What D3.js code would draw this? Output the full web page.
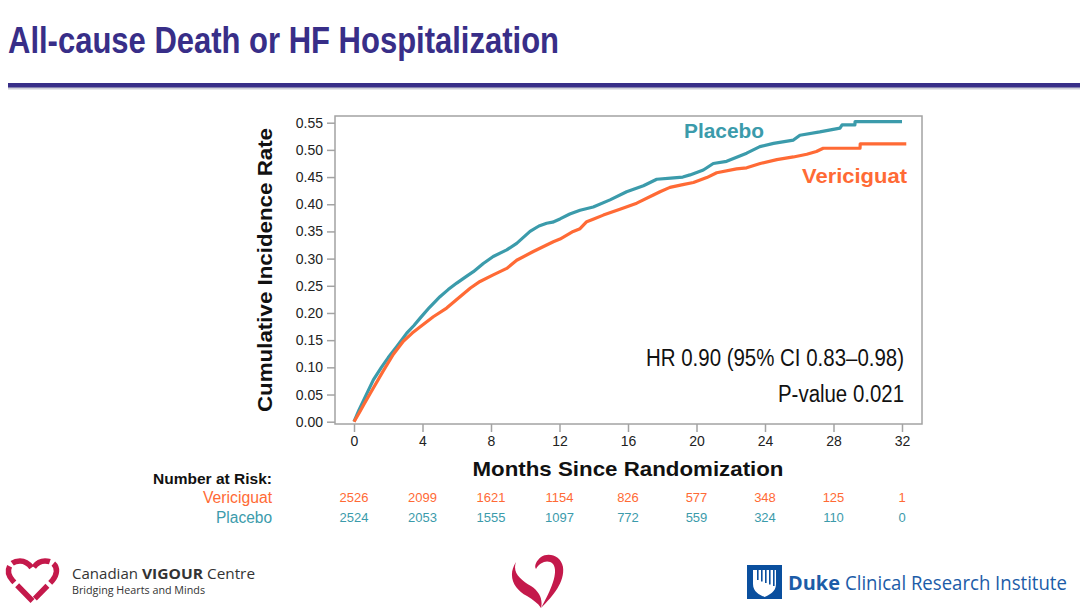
<!DOCTYPE html>
<html><head><meta charset="utf-8">
<script src="https://cdn.jsdelivr.net/npm/d3@7"></script>
<style>body{margin:0;background:#fff}svg{display:block;background:#fff}</style>
</head><body>
<svg id="c" width="1080" height="612"></svg>
<script>
// ---- data ----
const placeboMonths = [0,0.3,0.6,1.13,1.6,2.0,2.49,3.08,3.5,3.85,4.4,5.02,5.5,6.0,6.5,6.97,7.55,8.13,8.92,9.5,10.28,10.8,11.25,11.6,12.03,12.6,13.2,13.97,14.95,15.92,16.9,17.68,18.5,19.2,19.62,20.4,20.98,21.76,22.93,23.7,24.5,25.66,26.04,27.2,28.38,28.5,29.25,29.26,32.0];
const placeboRate   = [0,0.022,0.042,0.077,0.1,0.118,0.138,0.163,0.177,0.19,0.21,0.23,0.243,0.255,0.266,0.276,0.291,0.304,0.316,0.328,0.35,0.36,0.365,0.367,0.373,0.382,0.389,0.395,0.408,0.423,0.434,0.446,0.448,0.450,0.454,0.463,0.475,0.479,0.494,0.506,0.512,0.518,0.527,0.533,0.54,0.546,0.546,0.552,0.552];
const vericiguatMonths = [0,0.3,0.6,1.13,1.7,2.3,2.88,3.4,3.85,4.63,5.41,6.19,6.8,7.36,8.13,8.92,9.5,10.47,11.64,12.03,12.8,13.2,13.59,14.0,14.56,15.53,16.51,17.48,17.87,18.45,19.2,19.82,20.6,21.18,22.34,22.93,23.72,24.69,25.66,26.44,27.0,27.4,29.55,29.56,32.25];
const vericiguatRate   = [0,0.016,0.033,0.062,0.093,0.124,0.148,0.163,0.174,0.193,0.209,0.23,0.246,0.258,0.27,0.282,0.297,0.313,0.331,0.336,0.35,0.355,0.368,0.373,0.38,0.391,0.402,0.417,0.423,0.431,0.436,0.440,0.449,0.458,0.465,0.467,0.475,0.482,0.487,0.492,0.497,0.503,0.503,0.511,0.511];
const xTicks = [0,4,8,12,16,20,24,28,32];
const yTicks = [0,0.05,0.10,0.15,0.20,0.25,0.30,0.35,0.40,0.45,0.50,0.55];
const riskMonths = [0,4,8,12,16,20,24,28,32];
const vericiguatAtRisk = [2526,2099,1621,1154,826,577,348,125,1];
const placeboAtRisk    = [2524,2053,1555,1097,772,559,324,110,0];

// ---- styles ----
const TEAL = "#3b9bab", ORANGE = "#ff6a35", INDIGO = "#382e88", GRID = "#a3a3a3";
const F = "'Liberation Sans', Arial, sans-serif";
const OS = "'Open Sans', sans-serif";

const svg = d3.select("#c");
const plot = {l:335, r:922, t:116, b:424};
const x = d3.scaleLinear().domain([0,32]).range([354,902]);
const y = d3.scaleLinear().domain([0,0.55]).range([421.7,122.7]);

function label(t, px, py, opts) {
  const e = svg.append("text").attr("x",px).attr("y",py).attr("font-family",opts.family||F)
    .attr("font-size",opts.size).attr("fill",opts.fill||"#111").text(t);
  if (opts.bold) e.attr("font-weight","bold");
  if (opts.anchor) e.attr("text-anchor",opts.anchor);
  if (opts.len) e.attr("textLength",opts.len).attr("lengthAdjust","spacingAndGlyphs");
  return e;
}
// text squeezed horizontally with a transform so its box matches the target width
function fitLabel(t, px, py, width, opts) {
  const e = svg.append("text").attr("x",0).attr("y",0).attr("font-family",opts.family||F)
    .attr("font-size",opts.size).attr("fill",opts.fill||"#111").text(t);
  if (opts.bold) e.attr("font-weight","bold");
  const w = e.node().getComputedTextLength();
  e.attr("transform",`translate(${px},${py}) scale(${width/w},1)`);
  return e;
}

// title
label("All-cause Death or HF Hospitalization", 8, 53, {size:37, bold:true, fill:INDIGO, len:551});
svg.append("rect").attr("x",8).attr("y",87).attr("width",1072).attr("height",2.5).attr("fill","#d0d0d8");
svg.append("rect").attr("x",8).attr("y",83).attr("width",1072).attr("height",4.5).attr("fill",INDIGO);

// axes
const gx = svg.append("g").attr("transform",`translate(0,${plot.b})`)
  .call(d3.axisBottom(x).tickValues(xTicks).tickSize(8).tickPadding(4));
gx.select(".domain").remove();
gx.selectAll("line").attr("stroke",GRID).attr("stroke-width",1.5);
gx.selectAll("text").attr("font-family",F).attr("font-size",14).attr("fill","#222");

const gy = svg.append("g").attr("transform",`translate(${plot.l},0)`)
  .call(d3.axisLeft(y).tickValues(yTicks).tickFormat(d3.format(".2f")).tickSize(8).tickPadding(4));
gy.select(".domain").remove();
gy.selectAll("line").attr("stroke",GRID).attr("stroke-width",1.5);
gy.selectAll("text").attr("font-family",F).attr("font-size",14).attr("fill","#222");

// frame
svg.append("rect").attr("x",plot.l).attr("y",plot.t).attr("width",plot.r-plot.l).attr("height",plot.b-plot.t)
  .attr("fill","none").attr("stroke",GRID).attr("stroke-width",1.5);

// axis titles
svg.append("text").attr("transform","translate(272,270) rotate(-90)").attr("text-anchor","middle")
  .attr("font-family",F).attr("font-weight","bold").attr("font-size",21).attr("fill","#111")
  .attr("textLength",284).attr("lengthAdjust","spacingAndGlyphs").text("Cumulative Incidence Rate");
label("Months Since Randomization", 628, 476, {size:21, bold:true, anchor:"middle", len:311});

// curves
const line = d3.line().x(d=>x(d[0])).y(d=>y(d[1]));
svg.append("path").datum(d3.zip(placeboMonths,placeboRate)).attr("d",line)
  .attr("fill","none").attr("stroke",TEAL).attr("stroke-width",3.2).attr("stroke-linejoin","round");
svg.append("path").datum(d3.zip(vericiguatMonths,vericiguatRate)).attr("d",line)
  .attr("fill","none").attr("stroke",ORANGE).attr("stroke-width",3.2).attr("stroke-linejoin","round");

// series labels
label("Placebo", 684, 137.5, {size:20, bold:true, fill:TEAL, len:80});
label("Vericiguat", 802, 183, {size:20, bold:true, fill:ORANGE, len:105});

// stats
label("HR 0.90 (95% CI 0.83\u20130.98)", 646, 366, {size:23, len:258});
label("P-value 0.021", 778, 402, {size:23, len:126});

// number at risk
label("Number at Risk:", 153, 484, {size:15, bold:true, len:119});
label("Vericiguat", 272, 503, {size:16, anchor:"end", fill:ORANGE, len:69});
label("Placebo", 272, 523, {size:16, anchor:"end", fill:TEAL, len:56});
svg.append("g").selectAll("text").data(d3.zip(riskMonths,vericiguatAtRisk)).join("text")
  .attr("x",d=>x(d[0])).attr("y",502).attr("text-anchor","middle").attr("font-family",F)
  .attr("font-size",13).attr("fill",ORANGE).text(d=>d[1]);
svg.append("g").selectAll("text").data(d3.zip(riskMonths,placeboAtRisk)).join("text")
  .attr("x",d=>x(d[0])).attr("y",522).attr("text-anchor","middle").attr("font-family",F)
  .attr("font-size",13).attr("fill",TEAL).text(d=>d[1]);

// ---- logos ----
const RED = "#c4194b";
// Canadian VIGOUR Centre heart (outlined, broken)
svg.append("path").attr("d","M32.5 601 L13 581 C5 572 8 561 20 561 C26 561 30 565 32.5 569 C35 565 39 561 45 561 C57 561 60 572 52 581 Z")
  .attr("fill","none").attr("stroke",RED).attr("stroke-width",5.5).attr("stroke-dasharray","22 4 18 4");
label("Canadian", 72, 579, {family:OS, size:15, fill:"#333", len:66});
label("VIGOUR", 142, 579, {family:OS, size:15, bold:true, fill:"#333", len:61});
label("Centre", 207, 579, {family:OS, size:15, fill:"#333", len:48});
label("Bridging Hearts and Minds", 72, 594, {family:OS, size:11, fill:"#333", len:133});

// centre heart
svg.append("path").attr("d","M516 562 C507 576 514 589 527 596 C533 600 538 603 541 608 C543 600 540 592 531 586 C521 580 512 573 516 562 Z").attr("fill",RED);
svg.append("path").attr("d","M541 608 C553 596 565 582 563 567 C561 555 548 552 541 557 C536 561 534 566 536 569 C540 562 548 559 553 564 C559 572 551 590 541 608 Z").attr("fill",RED);

// Duke logo
const BLUE = "#0a4f9e";
svg.append("rect").attr("x",747).attr("y",565).attr("width",35).attr("height",34).attr("fill",BLUE);
svg.append("path").attr("d","M753 570 L776 570 L776 584 C776 592 769 595 764.5 597 C760 595 753 592 753 584 Z").attr("fill","#fff");
[757,761,765,769,773].forEach((sx,i)=>{
  svg.append("rect").attr("x",sx).attr("y",570).attr("width",1.6).attr("height",10+i*1.5).attr("fill",BLUE);
});
fitLabel("Duke", 788, 590, 52, {family:OS, size:20, bold:true, fill:"#1c5ca8"});
fitLabel("Clinical Research Institute", 845, 590, 222, {family:OS, size:20, fill:"#1c5ca8"});
</script>
</body></html>
